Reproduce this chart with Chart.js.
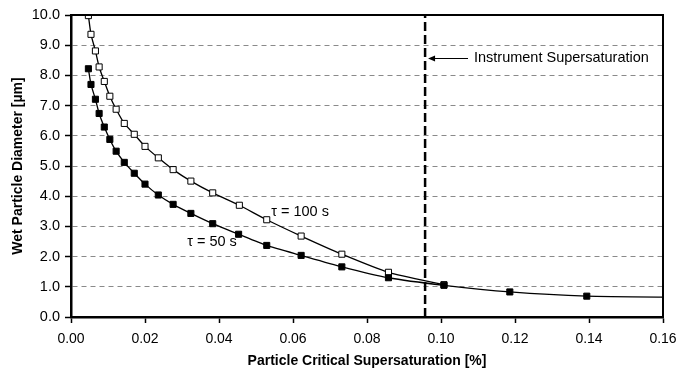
<!DOCTYPE html>
<html lang="en">
<head>
    <meta charset="UTF-8">
    <title>Wet Particle Diameter vs Critical Supersaturation</title>
    <script src="https://cdn.jsdelivr.net/npm/chart.js"></script>
    <style>
        html, body { margin: 0; padding: 0; background: #fff; }
        #wrap { width: 677px; height: 372px; }
    </style>
</head>
<body>
<div id="wrap"><canvas id="growthChart" width="677" height="372"></canvas></div>
<script>
// Data
const sc100 = [0.0047, 0.0054, 0.0066, 0.0076, 0.0090, 0.0105, 0.0122, 0.0144, 0.0171, 0.0200, 0.0236,
               0.0276, 0.0324, 0.0383, 0.0455, 0.0529, 0.0622, 0.0732, 0.0858, 0.1008];
const dia100 = [9.98, 9.36, 8.81, 8.28, 7.80, 7.31, 6.88, 6.41, 6.05, 5.65, 5.27,
                4.88, 4.50, 4.11, 3.70, 3.22, 2.68, 2.08, 1.48, 1.07];

const sc50 = [0.0047, 0.0054, 0.0066, 0.0076, 0.0090, 0.0105, 0.0122, 0.0144, 0.0171, 0.0200, 0.0236,
              0.0276, 0.0324, 0.0383, 0.0453, 0.0529, 0.0622, 0.0732, 0.0858, 0.1008, 0.1186, 0.1394, 0.1650];
const dia50 = [8.22, 7.70, 7.21, 6.74, 6.29, 5.88, 5.49, 5.12, 4.76, 4.40, 4.04,
               3.73, 3.43, 3.09, 2.74, 2.37, 2.04, 1.66, 1.30, 1.05, 0.83, 0.69, 0.65];

const instrumentSS = 0.0957;
const yTicks = [0, 1, 2, 3, 4, 5, 6, 7, 8, 9, 10];
const xTicks = [0, 0.02, 0.04, 0.06, 0.08, 0.10, 0.12, 0.14, 0.16];

const FONT = '"Liberation Sans", Arial, Helvetica, sans-serif';

const toXY = (xs, ys) => xs.map((v, i) => ({ x: v, y: ys[i] }));

// frame on top/right, curve labels and the annotation arrow
const notesPlugin = {
    id: 'notes',
    afterDraw(chart) {
        const { ctx, chartArea: a, scales: { x, y } } = chart;
        ctx.save();
        ctx.strokeStyle = '#000';
        ctx.lineWidth = 2;
        ctx.beginPath();
        ctx.moveTo(a.left, a.top);
        ctx.lineTo(a.right, a.top);
        ctx.lineTo(a.right, a.bottom);
        ctx.stroke();

        ctx.fillStyle = '#000';
        ctx.textBaseline = 'middle';
        ctx.textAlign = 'center';
        ctx.font = '14.5px ' + FONT;
        ctx.fillText('\u03c4 = 100 s', x.getPixelForValue(0.0619), y.getPixelForValue(3.47));
        ctx.fillText('\u03c4 = 50 s', x.getPixelForValue(0.0381), y.getPixelForValue(2.47));

        // arrow to the instrument line
        const ay = y.getPixelForValue(8.56);
        const ax0 = x.getPixelForValue(0.1073);
        const ax1 = x.getPixelForValue(instrumentSS) + 3;
        ctx.lineWidth = 1.2;
        ctx.beginPath();
        ctx.moveTo(ax0, ay);
        ctx.lineTo(ax1 + 5, ay);
        ctx.stroke();
        ctx.beginPath();
        ctx.moveTo(ax1, ay);
        ctx.lineTo(ax1 + 7, ay - 3);
        ctx.lineTo(ax1 + 7, ay + 3);
        ctx.closePath();
        ctx.fill();

        ctx.textAlign = 'left';
        ctx.font = '14.5px ' + FONT;
        ctx.fillText('Instrument Supersaturation', x.getPixelForValue(0.1089), ay);
        ctx.restore();
    }
};

const ctx = document.getElementById('growthChart').getContext('2d');
const chart = new Chart(ctx, {
    type: 'line',
    data: {
        datasets: [
            {
                label: 'Instrument Supersaturation',
                data: [{ x: instrumentSS, y: 0 }, { x: instrumentSS, y: 10 }],
                borderColor: '#000',
                borderWidth: 2.5,
                borderDash: [9, 4],
                pointRadius: 0
            },
            {
                label: 'tau = 50 s',
                data: toXY(sc50, dia50),
                borderColor: '#000',
                borderWidth: 1.3,
                backgroundColor: '#000',
                pointStyle: 'rect',
                pointRadius: sc50.map(v => v > 0.16 ? 0 : 4.3),
                pointBorderWidth: 1,
                pointBackgroundColor: '#000',
                tension: 0.2
            },
            {
                label: 'tau = 100 s',
                data: toXY(sc100, dia100),
                borderColor: '#000',
                borderWidth: 1.3,
                pointStyle: 'rect',
                pointRadius: 4.3,
                pointBorderWidth: 1,
                pointBackgroundColor: '#fff',
                tension: 0.2
            }
        ]
    },
    options: {
        responsive: false,
        animation: false,
        layout: { padding: { top: 15, right: 14, left: 0, bottom: 0 } },
        plugins: {
            legend: { display: false },
            tooltip: { enabled: false }
        },
        scales: {
            x: {
                type: 'linear',
                min: 0,
                max: 0.16,
                afterFit: s => { s.height = 55; s.paddingRight = 0; s.paddingLeft = 0; },
                afterBuildTicks: s => { s.ticks = xTicks.map(v => ({ value: v })); },
                ticks: {
                    color: '#000',
                    font: { family: FONT, size: 14 },
                    padding: 8,
                    callback: v => v.toFixed(2)
                },
                grid: {
                    drawOnChartArea: false,
                    tickLength: 6,
                    tickColor: '#000',
                    tickWidth: 1.5
                },
                border: { color: '#000', width: 2.5 },
                title: {
                    display: true,
                    text: 'Particle Critical Supersaturation [%]',
                    color: '#000',
                    font: { family: FONT, size: 14, weight: 'bold' },
                    padding: { top: 0, bottom: 2 }
                }
            },
            y: {
                min: 0,
                max: 10,
                afterFit: s => { s.width = 71; },
                afterBuildTicks: s => { s.ticks = yTicks.map(v => ({ value: v })); },
                ticks: {
                    color: '#000',
                    font: { family: FONT, size: 14.5 },
                    padding: 5,
                    callback: v => v.toFixed(1)
                },
                grid: {
                    color: '#8a8a8a',
                    lineWidth: 1,
                    tickLength: 6,
                    tickColor: '#000',
                    tickWidth: 1.5,
                    tickBorderDash: []
                },
                border: { color: '#000', width: 2.5, dash: [5, 4] },
                title: {
                    display: true,
                    text: 'Wet Particle Diameter [\u00b5m]',
                    color: '#000',
                    font: { family: FONT, size: 14, weight: 'bold' },
                    padding: { top: 10, bottom: 0 }
                }
            }
        }
    },
    plugins: [notesPlugin]
});
</script>
</body>
</html>
